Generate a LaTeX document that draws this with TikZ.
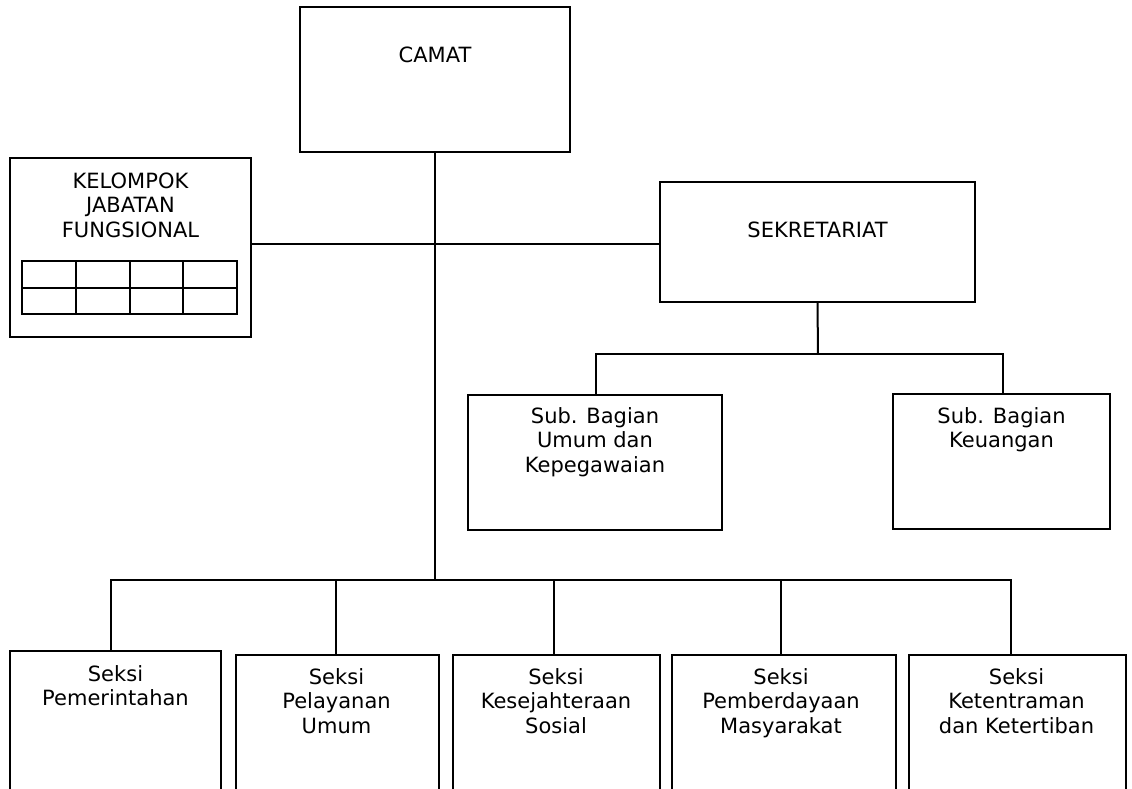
\documentclass[tikz,border=0pt]{standalone}
\usepackage{fontspec}
\setmainfont{DejaVu Sans}
\begin{document}
\begin{tikzpicture}[x=1pt,y=-1pt,
  orgbox/.style={draw, line width=2pt, inner sep=0pt},
  lbl/.style={inner sep=0pt, align=center, anchor=north, font=\fontsize{21}{24.5}\selectfont},
  conn/.style={line width=2pt}]
\useasboundingbox (0,0) rectangle (1132,789);
\clip (0,0) rectangle (1132,789);
% boxes
\node[orgbox, minimum width=270pt, minimum height=145pt] (camat) at (435,79.5) {};
\node[orgbox, minimum width=241pt, minimum height=179pt] (kjf) at (130.5,247.5) {};
\node[orgbox, minimum width=315pt, minimum height=120pt] (sek) at (817.5,242) {};
\node[orgbox, minimum width=254pt, minimum height=135pt] (sb1) at (595,462.5) {};
\node[orgbox, minimum width=217pt, minimum height=135pt] (sb2) at (1001.5,461.5) {};
\node[orgbox, minimum width=211pt, minimum height=169pt] (b1) at (115.5,735.5) {};
\node[orgbox, minimum width=203pt, minimum height=165pt] (b2) at (337.5,737.5) {};
\node[orgbox, minimum width=207pt, minimum height=165pt] (b3) at (556.5,737.5) {};
\node[orgbox, minimum width=224pt, minimum height=165pt] (b4) at (784,737.5) {};
\node[orgbox, minimum width=217pt, minimum height=165pt] (b5) at (1017.5,737.5) {};
% texts
\node[lbl] (camat-t) at (435,46.5) {CAMAT};
\node[lbl] (kjf-t) at (130.5,172.5) {KELOMPOK\\JABATAN\\FUNGSIONAL};
\node[lbl] (sek-t) at (817.5,221.5) {SEKRETARIAT};
\node[lbl] (sb1-t) at (595,407) {Sub. Bagian\\Umum dan\\Kepegawaian};
\node[lbl] (sb2-t) at (1001.5,407) {Sub. Bagian\\Keuangan};
\node[lbl] (b1-t) at (115.5,665) {Seksi\\Pemerintahan};
\node[lbl] (b2-t) at (336.5,668) {Seksi\\Pelayanan\\Umum};
\node[lbl] (b3-t) at (556,668) {Seksi\\Kesejahteraan\\Sosial};
\node[lbl] (b4-t) at (781,668) {Seksi\\Pemberdayaan\\Masyarakat};
\node[lbl] (b5-t) at (1016.5,668) {Seksi\\Ketentraman\\dan Ketertiban};
% grid inside KJF
\foreach \i in {0,...,3}{
  \foreach \j in {0,1}{
    \draw[line width=2pt] ({22+53.75*\i},{261+26.5*\j}) rectangle ({22+53.75*(\i+1)},{261+26.5*(\j+1)});
  }
}
% connectors
\coordinate (bus) at (435,580);
\coordinate (sbus) at (818,354);
\coordinate (d1) at (111,580);
\coordinate (d2) at (336,580);
\coordinate (d3) at (554,580);
\coordinate (d4) at (781,580);
\coordinate (d5) at (1011,580);
\coordinate (s1) at (596,354);
\coordinate (s2) at (1003,354);
\draw[conn] (camat.south) -- (bus);
\draw[conn] ([yshift=3.5pt]kjf.east) -- ([yshift=-2pt]sek.west);
\draw[conn] (sek.south) -- (sbus);
\draw[conn] ([xshift=-1pt]s1) -- ([xshift=1pt]s2);
\draw[conn] (s1) -- (s1 |- sb1.north);
\draw[conn] (s2) -- (s2 |- sb2.north);
\draw[conn] ([xshift=-1pt]d1) -- ([xshift=1pt]d5);
\draw[conn] (d1) -- (d1 |- b1.north);
\draw[conn] (d2) -- (d2 |- b2.north);
\draw[conn] (d3) -- (d3 |- b3.north);
\draw[conn] (d4) -- (d4 |- b4.north);
\draw[conn] (d5) -- (d5 |- b5.north);
\end{tikzpicture}
\end{document}
